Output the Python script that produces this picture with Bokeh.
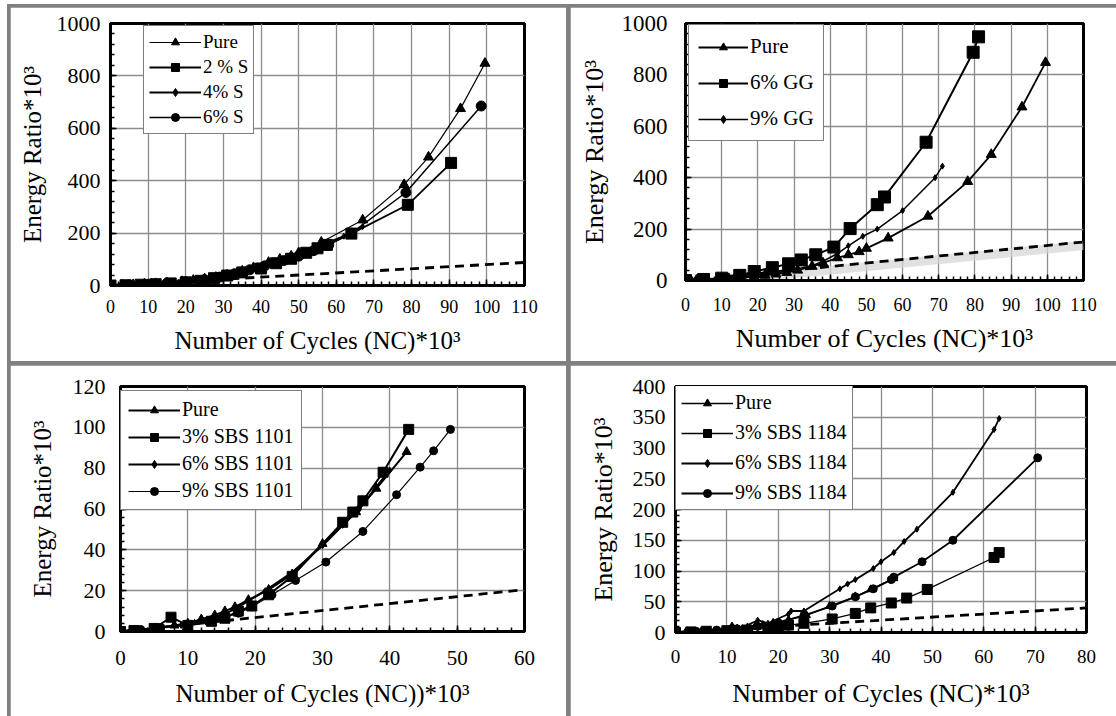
from bokeh.plotting import figure
from bokeh.layouts import column, row
from bokeh.models import Legend, LegendItem, FixedTicker, Range1d, ColumnDataSource
from bokeh.transform import dodge
from bokeh.embed import file_html
from bokeh.resources import INLINE

FONT = "serif"

# ---------------- data ----------------
# Panel 1 : sulfur (S)
pure_long_x = [0, 3, 6, 9, 12, 15, 19, 22, 25, 28, 31, 35, 38, 42, 45, 48, 50, 56, 67, 78, 84.5, 93, 99.5]
pure_long_y = [0, 1, 3, 5, 7, 10, 15, 20, 25, 31, 40, 55, 68, 88, 100, 112, 125, 165, 250, 385, 490, 675, 848]
s2_x = [0, 4, 8, 12, 16, 20, 24, 27.5, 31, 35, 40, 44, 48, 52, 55, 57.5, 64, 79, 90.5]
s2_y = [0, 1, 3, 5, 8, 12, 18, 28, 38, 50, 65, 85, 102, 125, 142, 155, 198, 308, 468]
s4_x = [0, 5, 10, 14, 18, 22, 26, 30, 34, 38, 42, 46, 50, 54, 58, 62, 67]
s4_y = [0, 2, 5, 8, 12, 18, 25, 33, 45, 60, 80, 98, 118, 140, 165, 188, 225]
s6_x = [0, 5, 10, 15, 20, 25, 29, 33, 37, 41, 46, 50, 54, 58, 64, 78.5, 98.5]
s6_y = [0, 2, 5, 9, 14, 22, 32, 45, 60, 75, 95, 112, 133, 155, 200, 355, 685]
trend1_x = [0, 110]
trend1_y = [0, 88]

# Panel 2 : GG
gg6_x = [0, 5, 10, 15, 19, 24, 28.5, 32, 36, 41, 45.5, 53, 55, 66.5, 79.5, 81]
gg6_y = [0, 4, 9, 20, 35, 50, 65, 80, 100, 130, 202, 295, 325, 538, 888, 948]
gg9_x = [0, 5, 10, 15, 20, 25, 30, 35, 38, 42, 45, 49, 53, 60, 69, 71]
gg9_y = [0, 3, 7, 12, 20, 30, 42, 58, 75, 105, 135, 172, 200, 272, 400, 445]
trend2_x = [0, 110]
trend2_y = [0, 150]

# Panel 3 : SBS 1101
pure_short_x = [0, 2, 5, 8, 10, 12, 14, 15.5, 17, 19, 22, 25.5, 30, 35, 38, 42.5]
pure_short_y = [0, 0.5, 1.5, 3, 4, 6, 8, 10, 12, 15.5, 20.5, 28, 43, 58.5, 70, 88]
a3_x = [0, 2, 5, 7.5, 10, 13.5, 15.5, 17.5, 19.5, 22, 25.5, 33, 34.5, 36, 39, 42.8]
a3_y = [0, 0.5, 1.5, 7, 3, 5, 6.5, 10, 12.5, 18, 27, 53.5, 58.5, 64, 78, 99]
a6_x = [0, 3, 6, 9, 11, 13, 15, 17, 19, 21.5, 25.5, 30, 33, 35.5, 38, 40]
a6_y = [0, 1, 2, 3, 4.5, 6, 8, 11, 15, 20, 29, 42, 52, 60, 71, 79]
a9_x = [0, 3, 6, 10, 13, 15, 17.5, 19.5, 22.5, 26, 30.5, 36, 41, 44.5, 46.5, 49]
a9_y = [0, 1, 2, 3.5, 5, 6.5, 9, 12, 18, 25, 34, 49, 67, 80.5, 88.5, 99]
trend3_x = [0, 60]
trend3_y = [0, 20.5]

# Panel 4 : SBS 1184
b3_x = [0, 3, 6, 10, 14, 18, 20, 22, 25, 30.5, 35, 38, 42, 45, 49, 62, 63]
b3_y = [0, 1, 2, 3, 4, 7, 9, 12, 15, 22, 31, 40, 48, 56, 70, 122, 130]
b6_x = [0, 3, 6, 8, 11, 13, 16, 18, 22, 22.5, 25, 32, 33.5, 35, 38.5, 40, 42.5, 44.5, 47, 54, 62, 63]
b6_y = [0, 2, 3, 4, 12, 8, 20, 15, 30, 35, 35, 71, 79, 86, 104, 115, 130, 148, 168, 228, 330, 348]
b9_x = [0, 4, 8, 12, 16, 20, 25, 30.5, 35, 38.5, 42, 42.5, 48, 54, 70.5]
b9_y = [0, 2, 4, 6, 10, 16, 28, 43, 58, 71, 86, 90, 115, 150, 284]
trend4_x = [0, 80]
trend4_y = [0, 40]

x_title = "Number of Cycles (NC)*10\u00b3"
x_title3 = "Number of Cycles (NC))*10\u00b3"
y_title = "Energy Ratio*10\u00b3"


def make_fig(fw, fh, bl, br, bt, bb, xmax, xstep, ymax, ystep,
             xlab, xtick_size, ytick_size, title_size,
             xl_standoff, xt_standoff, yl_standoff, yt_standoff):
    p = figure(frame_width=fw, frame_height=fh,
               min_border_left=bl, min_border_right=br,
               min_border_top=bt, min_border_bottom=bb,
               x_range=Range1d(0, xmax), y_range=Range1d(0, ymax),
               output_backend="svg", toolbar_location=None)
    p.background_fill_color = "white"
    p.border_fill_color = "white"
    p.outline_line_color = "black"
    p.outline_line_width = 3
    xt = list(range(0, xmax + 1, xstep))
    yt = list(range(0, ymax + 1, ystep))
    xm = [i * xstep / 5 for i in range(0, int(xmax / xstep * 5) + 1)]
    ym = [i * ystep / 5 for i in range(0, int(ymax / ystep * 5) + 1)]
    p.xaxis.ticker = FixedTicker(ticks=xt, minor_ticks=xm)
    p.yaxis.ticker = FixedTicker(ticks=yt, minor_ticks=ym)
    p.xgrid.ticker = FixedTicker(ticks=xt)
    p.ygrid.ticker = FixedTicker(ticks=yt)
    for g in (p.xgrid, p.ygrid):
        g.grid_line_color = "#8c8c8c"
        g.grid_line_width = 1.3
    for ax in (p.xaxis, p.yaxis):
        ax.axis_line_color = "black"
        ax.axis_line_width = 3
        ax.major_tick_in = 6
        ax.major_tick_out = 0
        ax.minor_tick_in = 4
        ax.minor_tick_out = 0
        ax.major_tick_line_width = 1.5
        ax.minor_tick_line_width = 1.5
        ax.major_tick_line_color = "black"
        ax.minor_tick_line_color = "black"
        ax.major_label_text_font = FONT
        ax.major_label_text_color = "black"
        ax.axis_label_text_font = FONT
        ax.axis_label_text_font_style = "normal"
        ax.axis_label_text_color = "black"
        ax.axis_label_text_font_size = f"{title_size}px"
    p.xaxis.major_label_text_font_size = f"{xtick_size}px"
    p.yaxis.major_label_text_font_size = f"{ytick_size}px"
    p.xaxis.axis_label = xlab
    p.yaxis.axis_label = y_title
    p.xaxis.major_label_standoff = xt_standoff
    p.xaxis.axis_label_standoff = xl_standoff
    p.yaxis.major_label_standoff = yt_standoff
    p.yaxis.axis_label_standoff = yl_standoff
    return p


def series(p, xs, ys, marker, size, lw):
    ln = p.line(xs, ys, line_color="black", line_width=lw)
    sc = p.scatter(xs, ys, marker=marker, size=size, fill_color="black",
                   line_color="black")
    return [ln, sc]


def add_legend(p, items, loc, font_size, spacing, padding, gw):
    lg = Legend(items=[LegendItem(label=l, renderers=r) for l, r in items],
                location=loc)
    lg.label_text_font = FONT
    lg.label_text_font_size = f"{font_size}px"
    lg.label_text_color = "black"
    lg.border_line_color = "black"
    lg.border_line_width = 1.5
    lg.background_fill_color = "white"
    lg.background_fill_alpha = 1
    lg.padding = padding
    lg.spacing = spacing
    lg.margin = 0
    lg.glyph_width = gw
    lg.glyph_height = 20
    lg.label_height = 20
    lg.label_standoff = 2
    p.add_layout(lg, "center")


def trend(p, xs, ys, shadow=False):
    if shadow:
        src = ColumnDataSource(dict(x=xs, y=ys))
        p.line(x="x", y=dodge("y", -14, range=p.y_range), source=src,
               line_color="#d4d4d4", line_width=9, line_alpha=0.7)
    p.line(xs, ys, line_color="black", line_width=2.8, line_dash="9 6")


# ---------------- panel 1 ----------------
p1 = make_fig(414, 262, 100, 42, 13, 79, 110, 10, 1000, 200, x_title,
              18, 22, 25, 11, 14, 8, 10)
trend(p1, trend1_x, trend1_y)
r_p = series(p1, pure_long_x, pure_long_y, "triangle", 10, 1.2)
r_2 = series(p1, s2_x, s2_y, "square", 11, 1.8)
r_4 = series(p1, s4_x, s4_y, "diamond", 6, 2.2)
r_6 = series(p1, s6_x, s6_y, "circle", 10, 1.5)
add_legend(p1, [("Pure", r_p), ("2 % S", r_2), ("4% S", r_4), ("6% S", r_6)],
           (33, 151), 19, 3, 5, 52)

# ---------------- panel 2 ----------------
p2 = make_fig(398, 257, 115, 33, 16, 81, 110, 10, 1000, 200, x_title,
              18, 23, 26, 10, 17, 10, 18)
trend(p2, trend2_x, trend2_y, shadow=True)
r_p = series(p2, pure_long_x, pure_long_y, "triangle", 10, 1.8)
r_g6 = series(p2, gg6_x, gg6_y, "square", 12, 2)
r_g9 = series(p2, gg9_x, gg9_y, "diamond", 6, 1.5)
add_legend(p2, [("Pure", r_p), ("6% GG", r_g6), ("9% GG", r_g9)],
           (3, 139), 21, 11, 9, 50)

# ---------------- panel 3 ----------------
p3 = make_fig(404, 245, 110, 42, 16, 90, 60, 10, 120, 20, x_title3,
              21, 22, 25, 12, 19, 14, 15)
trend(p3, trend3_x, trend3_y)
r_p = series(p3, pure_short_x, pure_short_y, "triangle", 9, 2)
r_a3 = series(p3, a3_x, a3_y, "square", 10, 2)
r_a6 = series(p3, a6_x, a6_y, "diamond", 6, 2)
r_a9 = series(p3, a9_x, a9_y, "circle", 8, 1.2)
add_legend(p3, [("Pure", r_p), ("3% SBS 1101", r_a3), ("6% SBS 1101", r_a6),
                ("9% SBS 1101", r_a9)], (0, 121), 20, 4, 7, 52)

# ---------------- panel 4 ----------------
p4 = make_fig(411, 246, 105, 30, 21, 84, 80, 10, 400, 50, x_title,
              19, 22, 26, 13, 17, 12, 10)
trend(p4, trend4_x, trend4_y)
r_p = series(p4, pure_short_x, pure_short_y, "triangle", 8, 1.3)
r_b3 = series(p4, b3_x, b3_y, "square", 10, 1.3)
r_b6 = series(p4, b6_x, b6_y, "diamond", 6, 1.8)
r_b9 = series(p4, b9_x, b9_y, "circle", 8, 1.8)
add_legend(p4, [("Pure", r_p), ("3% SBS 1184", r_b3), ("6% SBS 1184", r_b6),
                ("9% SBS 1184", r_b9)], (0, 122), 20, 7, 5, 52)

layout = column(
    row(p1, p2, spacing=4),
    row(p3, p4, spacing=4),
    spacing=4,
    margin=(4, 0, 0, 7),
    styles={"background-color": "#808080", "padding-top": "3px",
            "padding-left": "3px"},
)

open("out.html", "w").write(file_html(layout, INLINE))
